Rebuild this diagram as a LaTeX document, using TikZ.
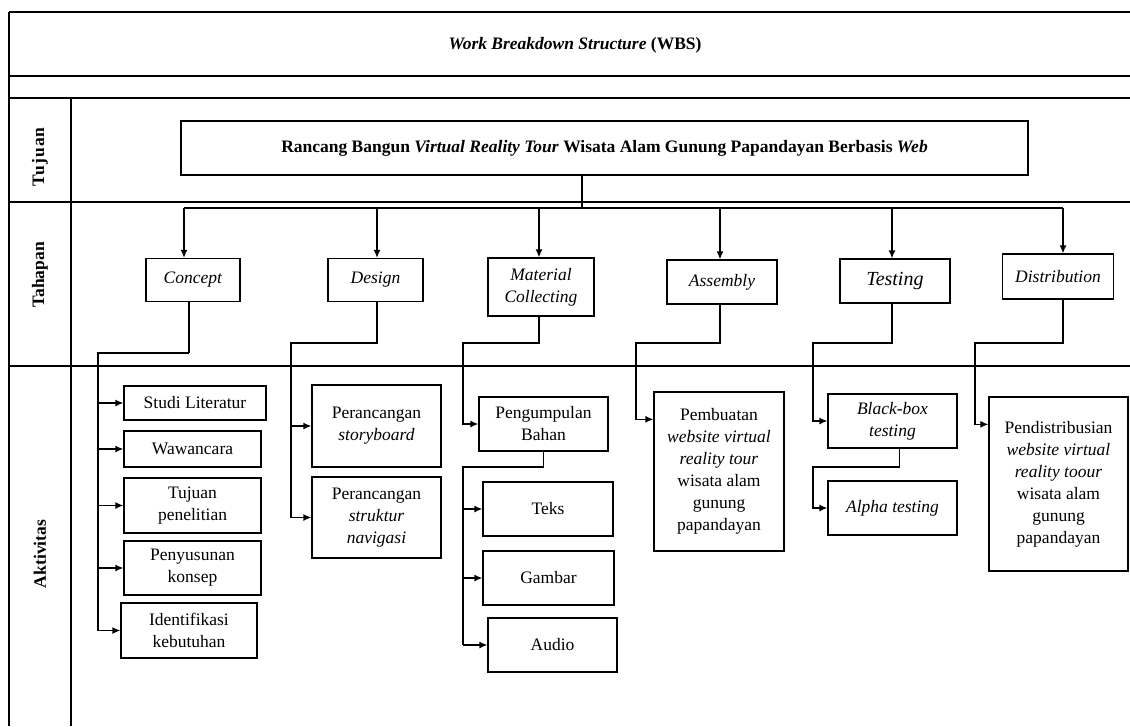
\documentclass[tikz,border=0pt]{standalone}
\usepackage{fontspec}
\setmainfont{Liberation Serif}
\usetikzlibrary{arrows.meta}
\newcommand{\txt}{\fontsize{17.5}{22}\selectfont}

\begin{document}
\begin{tikzpicture}[x=1pt,y=-1pt,
    frame/.style={line width=1.8pt},
    box/.style={draw,line width=1.3pt,align=center,inner sep=2pt,font=\txt},
    link/.style={line width=1.3pt},
    heavy/.style={line width=2.4pt},
    arr/.style={link,-{Latex[length=8pt,width=7pt]}},
    rowlabel/.style={rotate=90,font=\txt\bfseries}]
    \useasboundingbox (0,0) rectangle (1130,726);

    \draw[frame] (9,12) -- (1130,12);
    \draw[frame] (9,76) -- (1130,76);
    \draw[frame] (9,98) -- (1130,98);
    \draw[frame] (9,202) -- (1130,202);
    \draw[frame] (9,366) -- (1130,366);
    \draw[frame] (9,12) -- (9,726);
    \draw[frame] (71,98) -- (71,726);

    \node[font=\txt] (wbs) at (575,45) {\textbf{\textit{Work Breakdown Structure} (WBS)}};
    \node[rowlabel] (rtujuan) at (40,157) {\addfontfeature{LetterSpace=6}Tujuan};
    \node[rowlabel] (rtahapan) at (40,275) {Tahapan};
    \node[rowlabel] (raktivitas) at (40,554) {Aktivitas};

    \node[box,minimum width=847,minimum height=54] (goal) at (604.5,148)
      {\textbf{Rancang Bangun \textit{Virtual Reality Tour} Wisata Alam Gunung Papandayan Berbasis \textit{Web}}};

    \node[box,minimum width=94,minimum height=43] (concept) at (193,280) {\textit{Concept}};
    \node[box,minimum width=95,minimum height=43] (design) at (375.5,280) {\textit{Design}};
    \node[box,minimum width=106,minimum height=58] (material) at (541,287) {\textit{Material}\\\textit{Collecting}};
    \node[box,minimum width=110,minimum height=44] (assembly) at (722,282) {\textit{Assembly}};
    \node[box,minimum width=110,minimum height=44,font=\fontsize{20}{24}\selectfont] (testing) at (895,281) {\textit{Testing}};
    \node[box,minimum width=111,minimum height=45] (distribution) at (1058,276.5) {\textit{Distribution}};

    \node[box,minimum width=142,minimum height=34] (literatur) at (195,403) {Studi Literatur};
    \node[box,minimum width=137,minimum height=36] (wawancara) at (192.5,449) {Wawancara};
    \node[box,minimum width=137,minimum height=55] (tujuan) at (192.5,505.5) {Tujuan\\penelitian};
    \node[box,minimum width=137,minimum height=54] (konsep) at (192.5,568) {Penyusunan\\konsep};
    \node[box,minimum width=136,minimum height=55] (kebutuhan) at (189,630.5) {Identifikasi\\kebutuhan};

    \node[box,minimum width=129,minimum height=82] (storyboard) at (376.5,426) {Perancangan\\\textit{storyboard}};
    \node[box,minimum width=129,minimum height=81] (navigasi) at (376.5,517.5) {Perancangan\\\textit{struktur}\\\textit{navigasi}};

    \node[box,minimum width=129,minimum height=54] (bahan) at (543.5,424) {Pengumpulan\\Bahan};
    \node[box,minimum width=130,minimum height=54] (teks) at (548,509) {Teks};
    \node[box,minimum width=131,minimum height=54] (gambar) at (548.5,578) {Gambar};
    \node[box,minimum width=129,minimum height=54] (audio) at (552.5,645) {Audio};

    \node[box,minimum width=130,minimum height=159] (pembuatan) at (719,471.5)
      {Pembuatan\\\textit{website virtual}\\\textit{reality tour}\\wisata alam\\gunung\\papandayan};

    \node[box,minimum width=129,minimum height=54] (blackbox) at (892.5,421) {\textit{Black-box}\\\textit{testing}};
    \node[box,minimum width=129,minimum height=54] (alpha) at (892.5,508) {\textit{Alpha testing}};

    \node[box,minimum width=139,minimum height=174] (pendistribusian) at (1058.5,484)
      {Pendistribusian\\\textit{website virtual}\\\textit{reality toour}\\wisata alam\\gunung\\papandayan};

    \coordinate (split) at (582,208);
    \draw[link] (split |- goal.south) -- (split);
    \draw[link] ([xshift=-9pt]concept.north |- split) -- ([xshift=5pt]distribution.north |- split);
    \foreach \n/\dx in {concept/-9,design/1.5,material/-2,assembly/-2,testing/-3,distribution/5}
      \draw[arr] ([xshift=\dx pt]\n.north |- split) -- ([xshift=\dx pt]\n.north);

    \coordinate (cbus) at (98,353);
    \draw[link] ([xshift=-4pt]concept.south) -- ([xshift=-4pt]concept.south |- cbus);
    \draw[heavy] ([xshift=-4pt]concept.south |- cbus) -- (cbus) -- (cbus |- tujuan.west);
    \draw[link] (cbus |- tujuan.west) -- (cbus |- kebutuhan.west);
    \foreach \n in {literatur,wawancara,tujuan,konsep,kebutuhan}
      \draw[arr] (cbus |- \n.west) -- (\n.west);

    \coordinate (dbus) at (291,343);
    \draw[link] ([xshift=1.5pt]design.south) |- (dbus) -- (dbus |- navigasi.west);
    \foreach \n in {storyboard,navigasi}
      \draw[arr] (dbus |- \n.west) -- (\n.west);

    \coordinate (mbus) at (463,343);
    \draw[arr] ([xshift=-2pt]material.south) |- (mbus) |- (bahan.west);
    \coordinate (bbus) at (463,467);
    \draw[link] (bahan.south) |- (bbus) -- (bbus |- audio.west);
    \foreach \n in {teks,gambar,audio}
      \draw[arr] (bbus |- \n.west) -- (\n.west);

    \coordinate (abus) at (636,343);
    \draw[arr] ([xshift=-2pt]assembly.south) |- (abus) |- ([yshift=-28pt]pembuatan.north west);

    \coordinate (tbus) at (813,343);
    \draw[arr] ([xshift=-3pt]testing.south) |- (tbus) |- (blackbox.west);
    \coordinate (xbus) at (813,467);
    \draw[arr] ([xshift=7pt]blackbox.south) |- (xbus) |- (alpha.west);

    \coordinate (pbus) at (975,343);
    \draw[arr] ([xshift=5pt]distribution.south) |- (pbus) |- ([yshift=-28pt]pendistribusian.north west);
\end{tikzpicture}
\end{document}
